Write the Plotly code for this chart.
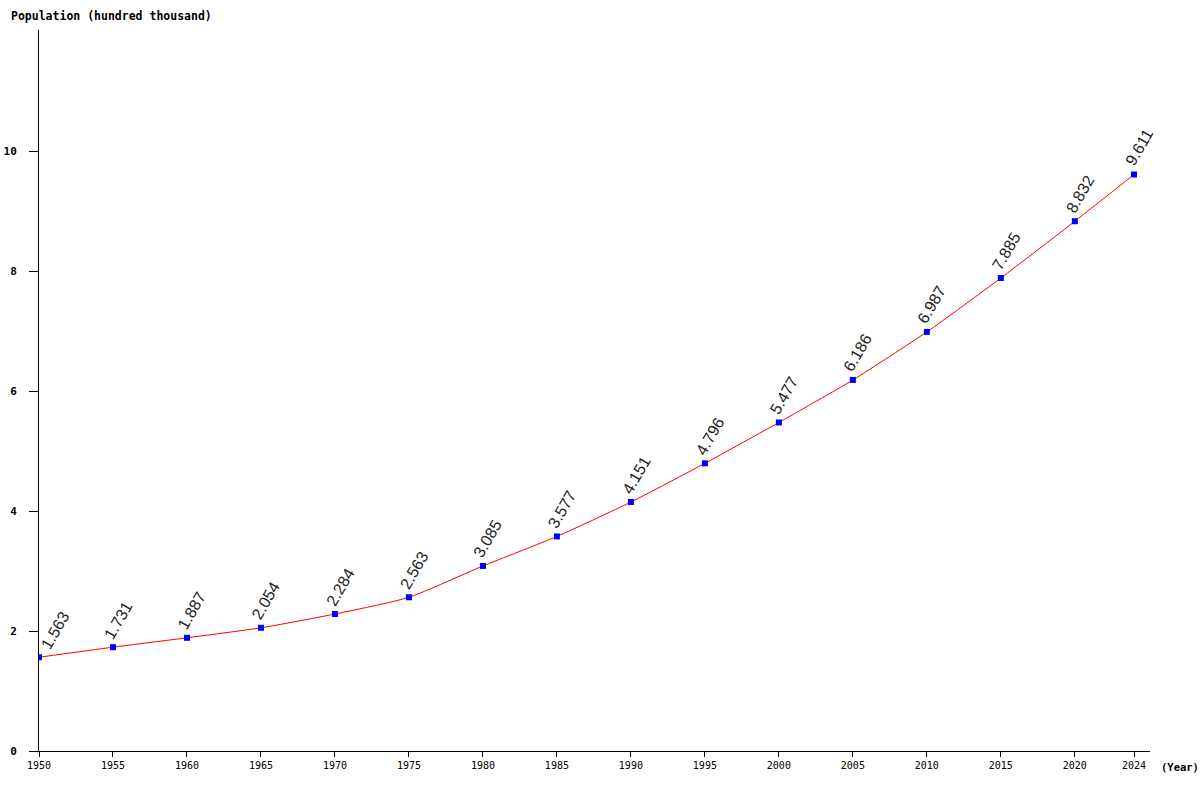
import plotly.graph_objects as go

years = [1950, 1955, 1960, 1965, 1970, 1975, 1980, 1985, 1990, 1995,
         2000, 2005, 2010, 2015, 2020, 2024]
population = [1.563, 1.731, 1.887, 2.054, 2.284, 2.563, 3.085, 3.577, 4.151, 4.796,
              5.477, 6.186, 6.987, 7.885, 8.832, 9.611]
y_ticks = [0, 2, 4, 6, 8, 10]

mono = 'DejaVu Sans Mono'

fig = go.Figure()
fig.add_trace(go.Scatter(
    x=years, y=population, mode='lines',
    line=dict(color='#ff0000', width=1, shape='spline', smoothing=0.6),
    hoverinfo='skip', showlegend=False
))
fig.add_trace(go.Scatter(
    x=years, y=population, mode='markers',
    marker=dict(symbol='square', size=6, color='#0000ff'),
    showlegend=False
))

# rotated value labels above each point
for i, (yr, val) in enumerate(zip(years, population)):
    fig.add_annotation(
        x=yr, y=val, text=f'{val:.3f}', showarrow=False,
        textangle=-60, font=dict(family='Liberation Sans, Arial', size=16, color='#222222'),
        xshift=16 if i == 0 else 5, yshift=27
    )

fig.add_annotation(
    xref='paper', yref='paper', x=-30 / 1111, y=1 + 14 / 721,
    xanchor='left', yanchor='middle', showarrow=False,
    text='<b>Population (hundred thousand)</b>',
    font=dict(family=mono, size=11.5, color='#000000')
)
fig.add_annotation(
    xref='paper', yref='paper', x=1 + 9 / 1111, y=-16 / 721,
    xanchor='left', yanchor='middle', showarrow=False,
    text='<b>(Year)</b>',
    font=dict(family=mono, size=10.5, color='#000000')
)

fig.update_layout(
    width=1200, height=800,
    paper_bgcolor='white', plot_bgcolor='white',
    margin=dict(l=39, r=50, t=30, b=49, autoexpand=False),
    xaxis=dict(
        range=[1950, 2025.08], tickvals=years, ticktext=[str(y) for y in years],
        showline=True, linecolor='black', linewidth=1, showgrid=False, zeroline=False,
        ticks='outside', ticklen=5, tickcolor='black', automargin=False,
        tickfont=dict(family=mono, size=10, color='#000000')
    ),
    yaxis=dict(
        range=[0, 12.02], tickvals=y_ticks, ticktext=[f'<b>{v}</b>' for v in y_ticks],
        showline=True, linecolor='black', linewidth=1, showgrid=False, zeroline=False,
        ticks='outside', ticklen=9, tickcolor='black', automargin=False,
        ticklabelstandoff=10,
        tickfont=dict(family=mono, size=11, color='#000000')
    )
)

# drop the default 8px body margin so the figure sits at the page corner
fig.write_html('out.html', config={'displayModeBar': False},
               post_script="document.body.style.margin='0';")
